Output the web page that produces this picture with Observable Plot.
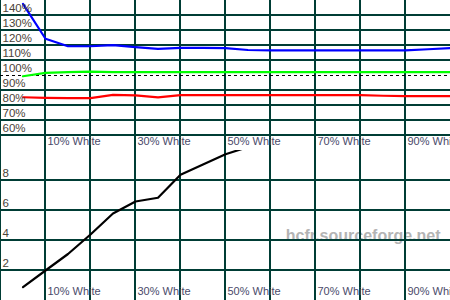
<!DOCTYPE html>
<html><head><meta charset="utf-8">
<script src="https://cdn.jsdelivr.net/npm/d3@7"></script>
<script src="https://cdn.jsdelivr.net/npm/@observablehq/plot@0.6"></script>
<style>
html,body{margin:0;padding:0;background:#fff;}
#chart svg{display:block;}
</style></head>
<body><div id="chart"></div>
<script>
const levels = [5,10,15,20,25,30,35,40,45,50,55,60,65,70,75,80,85,90,95,100];
const redLevel   = [85.5,85.1,84.9,84.9,87.1,86.8,85.4,86.9,86.9,86.9,86.9,86.9,86.9,86.9,86.9,86.9,86.5,86.2,86.2,86.2];
const greenLevel = [99.5,101.8,102.3,102.6,102.2,102.2,102.2,102.2,102.2,102.2,102.2,102.2,102.2,102.2,102.2,102.2,102.2,102.2,102.2,102.2];
const blueLevel  = [147.8,124.5,119.5,119.5,120.3,118.9,117.8,118.4,118.4,118.2,117.0,116.7,116.7,116.7,116.7,116.7,116.7,116.7,117.5,118.2];
const deltaLevels = [5,10,15,20,25,30,35,40,45,50,55];
const deltaE = [0.89,2.0,3.1,4.4,5.8,6.6,6.85,8.38,9.07,9.75,10.23];
const xGrid = [0,10,20,30,40,50,60,70,80,90];
const xLabels = [10,30,50,70,90];
const topGrid = [60,70,80,90,110,120,130,140];
const topLabels = [140,130,120,110,100,90,80,70,60];
const botGrid = [2,4,6,8];
const botLabels = [8,6,4,2];

const gridColor = "#003d35";
const font = "'Liberation Sans', Arial, sans-serif";

function rows(ys){ return levels.map((l,i)=>({x:l,y:ys[i]})); }

const common = {
  width: 450, height: 150, margin: 0,
  x: {domain:[0,100], range:[0,450], axis:null},
  style: {fontFamily: font, fontSize: "11px", background: "#fff", overflow: "visible"}
};

const topChart = Plot.plot({
  ...common,
  y: {domain:[50,150], range:[150,0], axis:null},
  marks: [
    Plot.ruleY(topGrid, {stroke: gridColor, strokeWidth: 2, dy: -0.5}),
    Plot.ruleX(xGrid, {stroke: gridColor, strokeWidth: 2, dx: -0.5}),
    Plot.ruleY([100], {stroke: "#000", strokeWidth: 1, strokeDasharray: "3,3"}),
    Plot.line(rows(redLevel), {x:"x", y:"y", stroke:"#ff0000", strokeWidth: 2.2}),
    Plot.line(rows(greenLevel), {x:"x", y:"y", stroke:"#00ff00", strokeWidth: 2.2}),
    Plot.line(rows(blueLevel), {x:"x", y:"y", stroke:"#0000ff", strokeWidth: 2.2}),
    Plot.text(topLabels, {y: d=>d, text: d=>d+"%", frameAnchor:"left", textAnchor:"start", dx: 2, dy: -7, fill:"#4a4238", fontSize: 11.5}),
    Plot.text(xLabels, {x: d=>d, text: d=>d+"% White", frameAnchor:"bottom", textAnchor:"start", dx: 2, dy: -6, fill:"#4a4a6a", fontSize: 11})
  ]
});

const bottomChart = Plot.plot({
  ...common,
  y: {domain:[0,10], range:[150,0], axis:null},
  marks: [
    Plot.text(["hcfr.sourceforge.net"], {text: d=>d, frameAnchor:"right", textAnchor:"end", dx: -10, dy: 10, fill:"#b4b4b4", fontSize: 16, fontWeight: "bold"}),
    Plot.ruleY(botGrid, {stroke: gridColor, strokeWidth: 2, dy: -0.5}),
    Plot.ruleX(xGrid, {stroke: gridColor, strokeWidth: 2, dx: -0.5}),
    Plot.line(deltaLevels.map((l,i)=>({x:l,y:deltaE[i]})), {x:"x", y:"y", stroke:"#000", strokeWidth: 2.2, clip: true}),
    Plot.text(botLabels, {y: d=>d, text: d=>String(d), frameAnchor:"left", textAnchor:"start", dx: 2, dy: -7, fill:"#4a4238", fontSize: 11.5}),
    Plot.text(xLabels, {x: d=>d, text: d=>d+"% White", frameAnchor:"bottom", textAnchor:"start", dx: 2, dy: -6, fill:"#4a4a6a", fontSize: 11})
  ]
});

document.getElementById("chart").append(topChart, bottomChart);
</script></body></html>
